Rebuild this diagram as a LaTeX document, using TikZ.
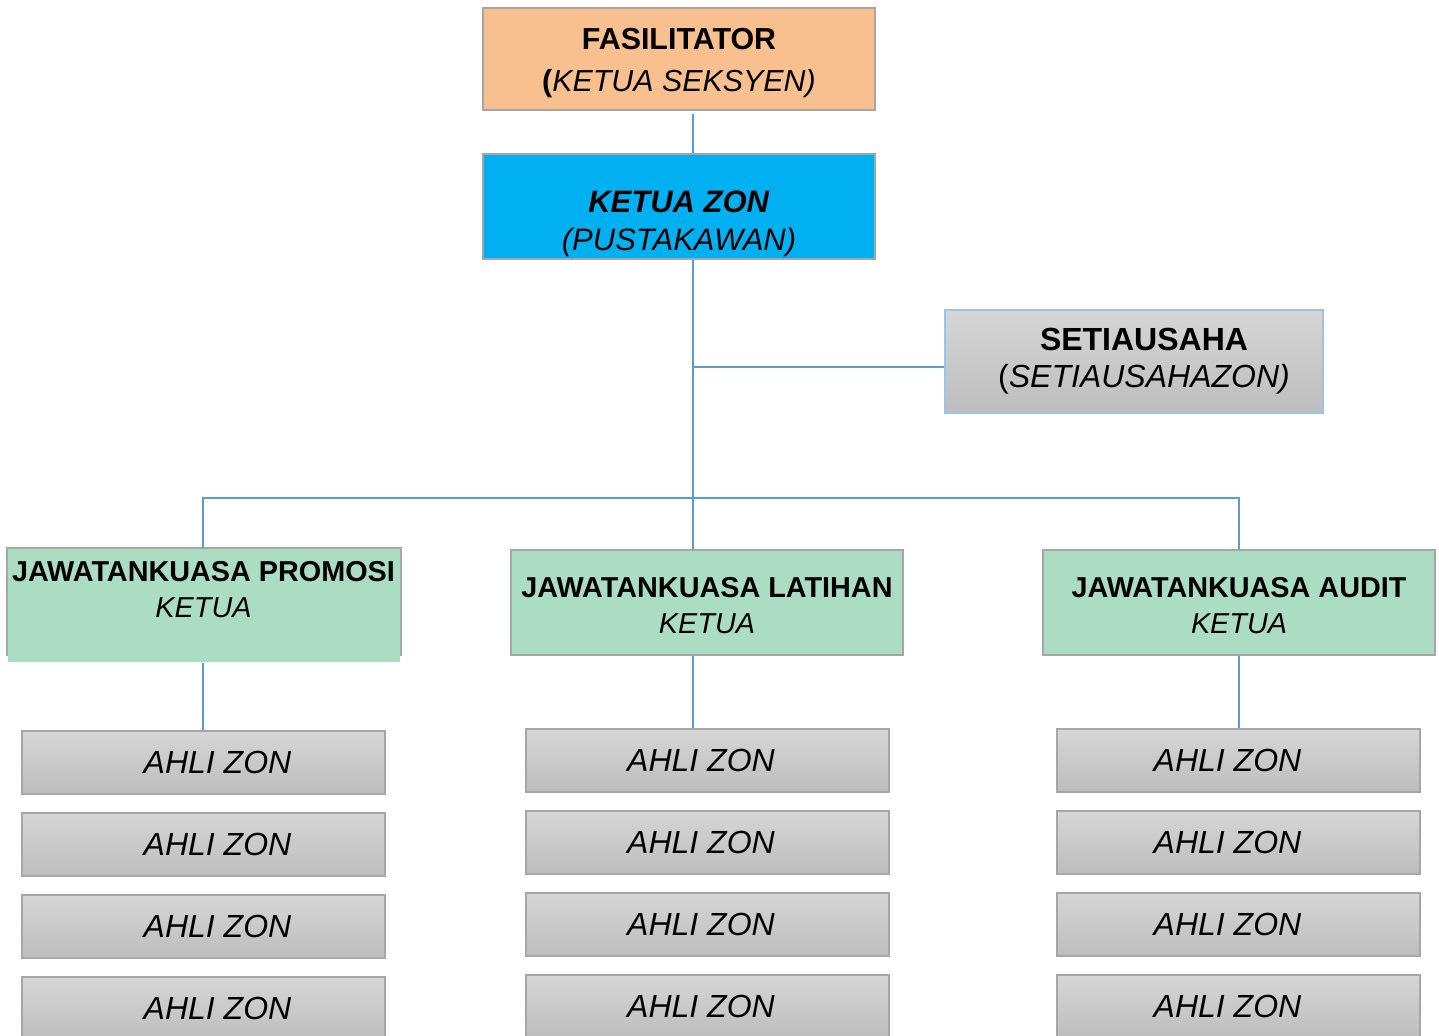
\documentclass[tikz,border=0pt]{standalone}
\usepackage{fontspec}
\setmainfont{Liberation Sans}
\usetikzlibrary{positioning}
\definecolor{peach}{HTML}{F9C08F}
\definecolor{zonblue}{HTML}{00B0F0}
\definecolor{mint}{HTML}{AADDC1}
\definecolor{graytop}{HTML}{D6D6D6}
\definecolor{graybot}{HTML}{BDBDBD}
\definecolor{edgegray}{HTML}{A6A6A6}
\definecolor{edgeblue}{HTML}{9DC3E6}
\definecolor{linkblue}{HTML}{5B9BD5}
\tikzset{
  box/.style={rectangle, draw=edgegray, line width=1pt, align=center, inner sep=1pt},
  topbox/.style={box, minimum width=196pt, minimum height=51pt},
  cmte/.style={box, fill=mint, minimum width=196pt, minimum height=52.5pt, font=\fontsize{14.4}{18}\selectfont},
  ahli/.style={box, top color=graytop, bottom color=graybot, minimum width=181.5pt, minimum height=31.5pt, font=\fontsize{16}{19}\selectfont\itshape},
  link/.style={draw=linkblue, line width=0.7pt}
}
\begin{document}
\begin{tikzpicture}[x=0.5pt,y=-0.5pt]
\useasboundingbox (0,0) rectangle (1439,1036);
\clip (0,0) rectangle (1439,1036);
%top of the chart
\node[topbox, fill=peach, font=\fontsize{15.2}{21}\selectfont] (fasi) at (679,59) {\rule{0pt}{15pt}\textbf{FASILITATOR}\\\textbf{(}\textit{KETUA SEKSYEN)}};
\node[topbox, fill=zonblue, minimum height=51.5pt, font=\fontsize{15.5}{19}\selectfont] (kzon) at (679,206.5) {\rule{0pt}{28.5pt}\textbf{\textit{KETUA ZON}}\\\textit{(PUSTAKAWAN)}};
\node[box, draw=edgeblue, top color=graytop, bottom color=graybot, minimum width=189pt, minimum height=51.5pt, font=\fontsize{16}{18.5}\selectfont] (setia) at (1134,361.5) {\hspace*{10pt}\textbf{SETIAUSAHA}\\\hspace*{10pt}(\textit{SETIAUSAHAZON)}};
%trunk and bus
\coordinate (trunk) at (693,498); \coordinate (sjoin) at (693,367);
\coordinate (busL) at (203,498); \coordinate (busR) at (1239,498);
%committees
\node[cmte, draw=none, minimum height=56.5pt] (promosi) at (203.5,605.5) {\textbf{JAWATANKUASA PROMOSI}\\\textit{KETUA}\rule[-16.5pt]{0pt}{0pt}};
\draw[draw=edgegray, line width=1pt] ([yshift=3.5pt]promosi.south west) |- (promosi.north east) -- ([yshift=3.5pt]promosi.south east);
\node[cmte] (latihan) at (707,602.5) {\rule{0pt}{13.5pt}\textbf{JAWATANKUASA LATIHAN}\\\textit{KETUA}};
\node[cmte] (audit) at (1239,602.5) {\rule{0pt}{13.5pt}\textbf{JAWATANKUASA AUDIT}\\\textit{KETUA}};
%members
\node[ahli] (p1) at (203.5,762.5) {\hspace*{14pt}AHLI ZON}; \node[ahli] (p2) at (203.5,844.5) {\hspace*{14pt}AHLI ZON};
\node[ahli] (p3) at (203.5,926.5) {\hspace*{14pt}AHLI ZON}; \node[ahli] (p4) at (203.5,1008.5) {\hspace*{14pt}AHLI ZON};
\node[ahli] (l1) at (707,760.5) {AHLI ZON\hspace*{6pt}}; \node[ahli] (l2) at (707,842.5) {AHLI ZON\hspace*{6pt}};
\node[ahli] (l3) at (707,924.5) {AHLI ZON\hspace*{6pt}}; \node[ahli] (l4) at (707,1006.5) {AHLI ZON\hspace*{6pt}};
\node[ahli] (a1) at (1238.5,760.5) {AHLI ZON\hspace*{11pt}}; \node[ahli] (a2) at (1238.5,842.5) {AHLI ZON\hspace*{11pt}};
\node[ahli] (a3) at (1238.5,924.5) {AHLI ZON\hspace*{11pt}}; \node[ahli] (a4) at (1238.5,1006.5) {AHLI ZON\hspace*{11pt}};
%connectors
\draw[link] ([yshift=-1.5pt]fasi.south -| trunk) -- (kzon.north -| trunk);
\draw[link] (kzon.south -| trunk) -- (latihan.north -| trunk);
\draw[link] (sjoin) -- (sjoin -| setia.west);
\draw[link] (promosi.north -| busL) -- (busL) -- (busR) -- (audit.north -| busR);
\draw[link] (promosi.south -| busL) -- (p1.north -| busL);
\draw[link] (latihan.south -| trunk) -- (l1.north -| trunk);
\draw[link] (audit.south -| busR) -- (a1.north -| busR);
\end{tikzpicture}
\end{document}
